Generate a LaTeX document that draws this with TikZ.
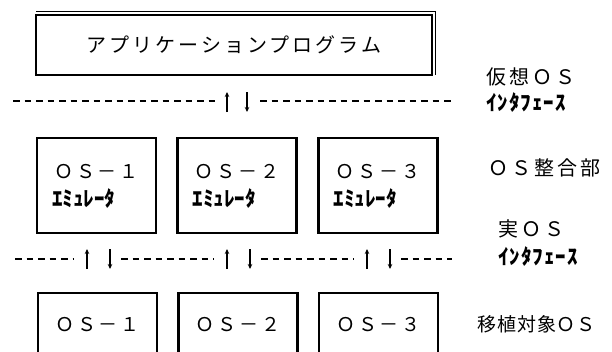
\documentclass[tikz,border=0pt]{standalone}
\usepackage{fontspec}
\usetikzlibrary{arrows.meta}
\newfontfamily\jp{Noto Sans CJK JP}
\newfontfamily\jpwide[LetterSpace=15]{Noto Sans CJK JP}
\newfontfamily\jpmid[LetterSpace=5]{Noto Sans CJK JP}
\begin{document}
\begin{tikzpicture}[x=1pt,y=-1pt,
  bigbox/.style={draw, line width=2.2pt, minimum width=396pt, minimum height=60pt, inner sep=0pt, outer sep=0pt},
  osbox/.style={draw, line width=2.2pt, minimum width=119pt, minimum height=95pt, inner sep=0pt, outer sep=0pt},
  lowbox/.style={draw, line width=2.2pt, minimum width=119pt, minimum height=100pt, inner sep=0pt, outer sep=0pt, anchor=north},
  ostext/.style={inner sep=0pt, font=\jpwide\fontsize{19}{22}\selectfont},
  emutext/.style={inner sep=0pt, anchor=west, font=\jp\bfseries\fontsize{21}{24}\selectfont},
  sidetext/.style={inner sep=0pt, anchor=west, font=\jpwide\fontsize{20}{24}\selectfont},
  ifacetext/.style={inner sep=0pt, anchor=west, font=\jpmid\bfseries\fontsize{21}{24}\selectfont},
  dashline/.style={line width=1.5pt, dash pattern=on 6.5pt off 5pt},
  ioarrow/.style={line width=1.3pt, -{Stealth[length=5pt,width=4.5pt]}}
]
\clip (0,0) rectangle (612,351);
% application box
\node[bigbox, font=\jpwide\fontsize{20}{24}\selectfont] (app) at (234,45) {アプリケーションプログラム};
\draw[line width=1.1pt] ([yshift=3.2pt]app.north west) -- ([xshift=3.2pt,yshift=3.2pt]app.north east) -- ([xshift=3.2pt]app.south east);

% upper interface line
\coordinate (u0) at (13,101);
\coordinate (u1) at (216,101);
\coordinate (u2) at (260,101);
\coordinate (u3) at (452,101);
\draw[dashline] (u0) -- (u1);
\draw[dashline] (u2) -- (u3);
\coordinate (ua1) at (227,112);
\coordinate (ua2) at (227,92);
\coordinate (ud1) at (247,92);
\coordinate (ud2) at (247,112);
\draw[ioarrow] (ua1) -- (ua2);
\draw[ioarrow] (ud1) -- (ud2);

% emulator boxes
\node[osbox] (m1) at (96.5,185.5) {};
\node[osbox] (m2) at (237,185.5) {};
\node[osbox] (m3) at (378,185.5) {};
\node[ostext] (m1a) at (96.5,172) {ＯＳ－１};
\node[ostext] (m2a) at (237,172) {ＯＳ－２};
\node[ostext] (m3a) at (378,172) {ＯＳ－３};
\node[emutext] (m1b) at (52,199) {ｴﾐｭﾚｰﾀ};
\node[emutext] (m2b) at (192.5,199) {ｴﾐｭﾚｰﾀ};
\node[emutext] (m3b) at (333.5,199) {ｴﾐｭﾚｰﾀ};

% lower interface line
\coordinate (l0) at (15,259);
\coordinate (l1) at (74,259);
\coordinate (l2) at (121,259);
\coordinate (l3) at (214,259);
\coordinate (l4) at (261,259);
\coordinate (l5) at (354,259);
\coordinate (l6) at (401,259);
\coordinate (l7) at (452,259);
\draw[dashline] (l0) -- (l1);
\draw[dashline] (l2) -- (l3);
\draw[dashline] (l4) -- (l5);
\draw[dashline] (l6) -- (l7);
\foreach \ax/\bx [count=\i] in {87/110, 227/250, 367/390}{
  \coordinate (la\i) at (\ax,269);
  \coordinate (lb\i) at (\ax,249);
  \coordinate (lc\i) at (\bx,249);
  \coordinate (ld\i) at (\bx,269);
  \draw[ioarrow] (la\i) -- (lb\i);
  \draw[ioarrow] (lc\i) -- (ld\i);
}

% target OS boxes
\node[lowbox] (b1) at (97.5,293) {};
\node[lowbox] (b2) at (238,293) {};
\node[lowbox] (b3) at (378.5,293) {};
\node[ostext] (b1t) at (97.5,325) {ＯＳ－１};
\node[ostext] (b2t) at (238,325) {ＯＳ－２};
\node[ostext] (b3t) at (378.5,325) {ＯＳ－３};

% side labels
\node[sidetext] (s1) at (486,77) {仮想ＯＳ};
\node[ifacetext] (s2) at (486,103) {ｲﾝﾀﾌｪｰｽ};
\node[sidetext] (s3) at (488,168) {ＯＳ整合部};
\node[sidetext] (s4) at (498,229) {実ＯＳ};
\node[ifacetext] (s5) at (498,257) {ｲﾝﾀﾌｪｰｽ};
\node[sidetext, font=\jpmid\fontsize{19}{22}\selectfont] (s6) at (477,324) {移植対象ＯＳ};
\end{tikzpicture}
\end{document}
